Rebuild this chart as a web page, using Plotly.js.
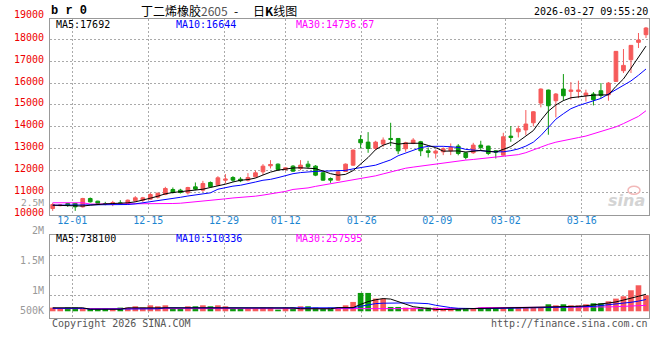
<!DOCTYPE html>
<html>
<head>
<meta charset="utf-8">
<script src="https://cdn.plot.ly/plotly-3.0.1.min.js"></script>
<style>html,body{margin:0;padding:0;background:#fff;}#chart{width:660px;height:360px;}</style>
</head>
<body>
<div id="chart"></div>
<script>
// ---------------- data ----------------
const tickLabels = ['12-01','12-15','12-29','01-12','01-26','02-09','03-02','03-16'];

const open = [10268,10400,10497,10500,10345,10726,10604,10480,10467,10527,10497,
10619,10650,10695,10786,10908,11137,11107,10985,11259,11107,
11458,11336,11564,11686,11610,11564,11717,11945,12220,12296,
12052,12205,12098,12296,12205,11900,11640,11564,11960,12250,
13425,13303,13013,13211,13470,13470,12998,13242,13318,12906,
12800,12860,12906,13120,12815,12815,13166,13120,12906,12708,
13577,13775,13860,14187,15087,15682,15194,15728,15621,15621,
15440,15499,15651,15468,16078,16566,17070,17862,18213];
const high = [10527,10460,10527,10520,10756,10771,10620,10573,10620,10650,10680,
10832,10800,10985,10985,11259,11229,11168,11259,11458,11534,
11503,11747,11839,11747,11700,11885,12006,12296,12479,12327,
12144,12250,12479,12449,12250,11945,11686,11991,12327,12967,
13623,13760,13364,13516,14187,13470,13318,13486,13360,13060,
12967,13060,13242,13211,12860,13270,13364,13140,12940,13730,
14035,14050,14770,14720,15760,15700,15545,16414,16048,16110,
15700,15590,16000,16050,17460,17558,17740,18290,18564];
const low = [10160,10370,10345,10160,10314,10543,10450,10420,10375,10466,10466,
10573,10573,10680,10725,10878,10954,10954,10909,11107,11030,
11214,11305,11412,11488,11473,11503,11686,11793,12098,11991,
11991,11945,12022,12098,11747,11534,11442,11534,11945,12220,
13013,12815,12937,13089,13120,12754,12860,13210,12662,12600,
12555,12708,12708,12700,12510,12770,12937,12708,12555,12690,
13318,13516,13620,14020,14890,13640,14430,15194,15240,15316,
15160,14980,15316,15194,16050,16460,16460,17603,18061];
const close = [10451,10430,10420,10345,10726,10573,10497,10480,10543,10482,10650,
10756,10756,10908,10970,11183,11000,11000,11229,11153,11412,
11259,11671,11610,11564,11534,11686,11900,12205,12281,12052,
12128,11976,12250,12174,11793,11564,11564,11945,12296,12937,
13272,13013,13303,13394,13425,12906,13272,13394,12906,12830,
12891,12998,13059,12784,12601,13166,13059,12784,12845,13547,
13516,13913,14130,14690,15728,14965,15500,15423,15682,15682,
15545,15240,15438,16002,17451,16810,17725,17969,18518];
const ma5 = [10420,10410,10400,10375,10380,10420,10466,10480,10497,10500,10527,
10573,10640,10740,10830,10940,11000,11040,11080,11100,11150,
11230,11300,11380,11480,11560,11590,11660,11800,11930,12020,
12080,12120,12130,12120,12090,11980,11860,11790,11830,12000,
12300,12600,12960,13160,13280,13210,13250,13250,13250,13150,
13050,12890,12900,12900,12850,12880,12920,12880,12850,12970,
13100,13330,13560,13830,14300,14720,15000,15200,15330,15380,
15410,15450,15460,15460,15850,16190,16680,17190,17692];
const ma10 = [10420,10420,10420,10420,10420,10420,10420,10420,10420,10440,10451,
10480,10527,10560,10619,10670,10725,10780,10840,10878,10930,
10985,11150,11230,11290,11330,11390,11480,11560,11600,11680,
11780,11860,11910,11950,11965,11976,11985,11991,12010,12080,
12140,12200,12250,12370,12490,12680,12800,12937,13050,13110,
13120,13110,13090,13059,12970,12930,12906,12880,12860,12860,
12910,12990,13120,13300,13600,14000,14350,14600,14830,14970,
15080,15160,15300,15500,15700,15880,16100,16360,16644];
const ma30 = [10530,10530,10530,10530,10530,10470,10470,10470,10470,10470,10470,
10470,10470,10470,10480,10490,10497,10510,10542,10560,10604,
10620,10650,10710,10750,10771,10800,10832,10880,10930,10985,
11050,11140,11170,11210,11280,11340,11390,11460,11520,11600,
11660,11720,11762,11850,11940,12000,12110,12160,12210,12260,
12300,12360,12400,12440,12480,12510,12550,12586,12620,12650,
12690,12730,12820,12950,13100,13200,13300,13380,13450,13510,
13580,13680,13780,13880,14000,14150,14300,14480,14737];
const volume = [159000,116000,159000,159000,116000,101000,101000,101000,101000,159000,159000,
217000,159000,260000,217000,260000,116000,116000,217000,217000,260000,
217000,260000,217000,116000,116000,116000,116000,159000,159000,72000,
159000,159000,217000,217000,159000,116000,159000,159000,260000,405000,
796000,796000,550000,550000,188000,188000,159000,159000,159000,159000,
159000,116000,116000,116000,116000,116000,159000,159000,159000,116000,
159000,159000,159000,159000,159000,304000,260000,304000,260000,260000,
304000,347000,347000,434000,550000,651000,911000,1128000,694000];
const vma5 = [150000,150000,150000,150000,150000,90000,90000,90000,90000,90000,150000,
150000,150000,150000,150000,170000,170000,170000,170000,170000,170000,
170000,170000,170000,170000,145000,145000,145000,145000,145000,145000,
145000,145000,110000,110000,110000,110000,110000,160000,160000,160000,
300000,420000,500000,550000,530000,430000,320000,200000,160000,120000,
80000,75000,75000,90000,110000,116000,120000,125000,130000,140000,
145000,150000,155000,159000,159000,170000,190000,205000,215000,217000,
240000,270000,320000,360000,405000,477000,550000,651000,738100];
const vma10 = [130000,130000,130000,130000,130000,90000,90000,90000,90000,90000,110000,
110000,110000,110000,110000,150000,150000,150000,150000,150000,150000,
150000,150000,150000,150000,150000,150000,150000,150000,150000,150000,
150000,150000,140000,140000,140000,140000,140000,150000,150000,150000,
217000,280000,333000,350000,362000,362000,362000,362000,362000,330000,
260000,200000,160000,130000,116000,116000,116000,116000,116000,116000,
125000,135000,145000,150000,155000,159000,165000,170000,178000,185000,
190000,210000,250000,280000,310000,333000,390000,440000,510336];
const vma30 = [116000,116000,116000,116000,116000,116000,116000,116000,116000,116000,116000,
116000,116000,116000,116000,116000,116000,116000,116000,116000,116000,
116000,116000,116000,116000,116000,116000,116000,116000,116000,116000,
116000,116000,116000,116000,116000,116000,116000,116000,116000,116000,
116000,116000,116000,116000,116000,116000,116000,116000,116000,116000,
116000,116000,116000,116000,116000,116000,159000,159000,159000,159000,
159000,159000,159000,159000,159000,159000,159000,159000,159000,159000,
159000,170000,180000,190000,200000,210000,225000,240000,257595];

const priceTicks = [10000,11000,12000,13000,14000,15000,16000,17000,18000];

// ---------------- drawing ----------------
const idx = close.map((_, i) => i);
const RED = '#f65a5a', GREEN = '#0c9a0c';
const volColors = close.map((c, i) => c > open[i] ? RED : GREEN);
const MONO = 'DejaVu Sans Mono';

// plot area in pixels: x 50..649, y 19..317.7; candle 0 at 52.7 px, 7.51 px per candle
const L = 50, R = 649, T = 19, B = 317.7, X0 = 52.7, DX = 7.51;
const px = x => (x - L) / (R - L);
const py = y => (B - y) / (B - T);
const toIdx = p => (p - X0) / DX;
const gridPx = [72.3, 148.3, 224, 285.7, 361.7, 437.3, 505.7, 581.7];
const gridVals = gridPx.map(toIdx);

function ann(text, x, y, color, anchor, size, extra) {
  return Object.assign({
    text: text, xref: 'paper', yref: 'paper', x: px(x), y: py(y),
    xanchor: anchor || 'left', yanchor: 'middle', showarrow: false,
    font: {family: MONO, size: size || 10, color: color || '#000'}
  }, extra || {});
}
const CJK = {family: 'Noto Sans CJK SC', size: 12, color: '#000'};

const traces = [
  {type: 'candlestick', x: idx, open: open, high: high, low: low, close: close,
   xaxis: 'x', yaxis: 'y',
   increasing: {line: {color: RED, width: 1}, fillcolor: RED},
   decreasing: {line: {color: GREEN, width: 1}, fillcolor: GREEN},
   hoverinfo: 'skip'},
  {type: 'scatter', mode: 'lines', x: idx, y: ma30, xaxis: 'x', yaxis: 'y', line: {color: '#ff00ff', width: 1}},
  {type: 'scatter', mode: 'lines', x: idx, y: ma10, xaxis: 'x', yaxis: 'y', line: {color: '#0000ff', width: 1}},
  {type: 'scatter', mode: 'lines', x: idx, y: ma5, xaxis: 'x', yaxis: 'y', line: {color: '#000000', width: 1}},
  {type: 'bar', x: idx, y: volume, xaxis: 'x2', yaxis: 'y2', marker: {color: volColors, line: {width: 0}}},
  {type: 'scatter', mode: 'lines', x: idx, y: vma30, xaxis: 'x2', yaxis: 'y2', line: {color: '#ff00ff', width: 1}},
  {type: 'scatter', mode: 'lines', x: idx, y: vma10, xaxis: 'x2', yaxis: 'y2', line: {color: '#0000ff', width: 1}},
  {type: 'scatter', mode: 'lines', x: idx, y: vma5, xaxis: 'x2', yaxis: 'y2', line: {color: '#000000', width: 1}}
];

const xbase = {
  range: [toIdx(L), toIdx(R)], tickvals: gridVals, ticks: '', showgrid: true,
  gridcolor: '#aaaaaa', gridwidth: 1, griddash: '2px,2px',
  showline: true, mirror: true, linecolor: '#999', linewidth: 1,
  zeroline: false, fixedrange: true
};

const layout = {
  width: 660, height: 360,
  margin: {l: 50, r: 11, t: 19, b: 42.3, pad: 0},
  paper_bgcolor: '#fff', plot_bgcolor: '#fff',
  showlegend: false, bargap: 0.25,
  xaxis: Object.assign({}, xbase, {
    anchor: 'y', ticktext: tickLabels, showticklabels: true,
    ticklabelstandoff: -4,
    tickfont: {family: MONO, size: 10, color: '#1c86d1'},
    rangeslider: {visible: false}
  }),
  xaxis2: Object.assign({}, xbase, {anchor: 'y2', matches: 'x', showticklabels: false}),
  yaxis: {
    domain: [(B - 214.4) / (B - T), 1], range: [9990, 18930],
    tickvals: priceTicks, ticktext: priceTicks.map(String), ticks: '',
    ticklabelstandoff: 3, ticklabelshift: -2,
    tickfont: {family: MONO, size: 10, color: '#ee0000'},
    showgrid: true, gridcolor: '#aaaaaa', gridwidth: 1, griddash: '2px,2px',
    showline: true, mirror: true, linecolor: '#999', linewidth: 1,
    zeroline: false, fixedrange: true
  },
  yaxis2: {
    domain: [0, (B - 234.3) / (B - T)], range: [-291000, 3329000],
    tickvals: [664000, 1562000, 2430000], showticklabels: false, ticks: '',
    showgrid: true, gridcolor: '#aaaaaa', gridwidth: 1, griddash: '2px,2px',
    showline: true, mirror: true, linecolor: '#999', linewidth: 1,
    zeroline: false, fixedrange: true
  },
  annotations: [
    ann('19000', 46, 15, '#ee0000', 'right'),
    ann('2.5M', 46, 202.5, '#999', 'right', 9.5),
    ann('2M', 46, 230.7, '#999', 'right'),
    ann('1.5M', 46, 260.7, '#999', 'right'),
    ann('1M', 46, 290.7, '#999', 'right'),
    ann('500K', 46, 310.7, '#999', 'right'),
    ann('<b>b r 0</b>', 49, 11, '#000', 'left', 12, {font: {family: 'Liberation Mono', size: 12, color: '#000'}}),
    ann('丁二烯橡胶<span style="color:#555">2605</span>', 139, 11, '#000', 'left', 12, {font: CJK}),
    ann('-', 236, 11, '#000', 'center', 12, {font: CJK}),
    ann('日<b>K</b>线图', 251, 11, '#000', 'left', 12, {font: CJK}),
    ann('2026-03-27 09:55:20', 650, 12, '#000', 'right'),
    ann('MA5:17692', 53.5, 24, '#000'),
    ann('MA10:16644', 174, 24, '#0000ff'),
    ann('MA30:14736.67', 294, 24, '#ff00ff'),
    ann('MA5:738100', 53.5, 238.5, '#000'),
    ann('MA10:510336', 174, 238.5, '#0000ff'),
    ann('MA30:257595', 294, 238.5, '#ff00ff'),
    ann('Copyright 2026 SINA.COM', 49.5, 323.5, '#555'),
    ann('http://finance.sina.com.cn', 650, 323.5, '#555', 'right'),
    ann('<i><b>sina</b></i>', 626, 200, '#d0d0d0', 'center', 16,
        {font: {family: 'DejaVu Sans', size: 16, color: '#d4d4d4'}})
  ],
  shapes: [
    {type: 'circle', xref: 'paper', yref: 'paper', x0: px(628), x1: px(640), y0: py(194), y1: py(186),
     line: {color: '#f2b8b8', width: 1.5}}
  ]
};

Plotly.newPlot('chart', traces, layout, {staticPlot: true, displayModeBar: false});
</script>
</body>
</html>
